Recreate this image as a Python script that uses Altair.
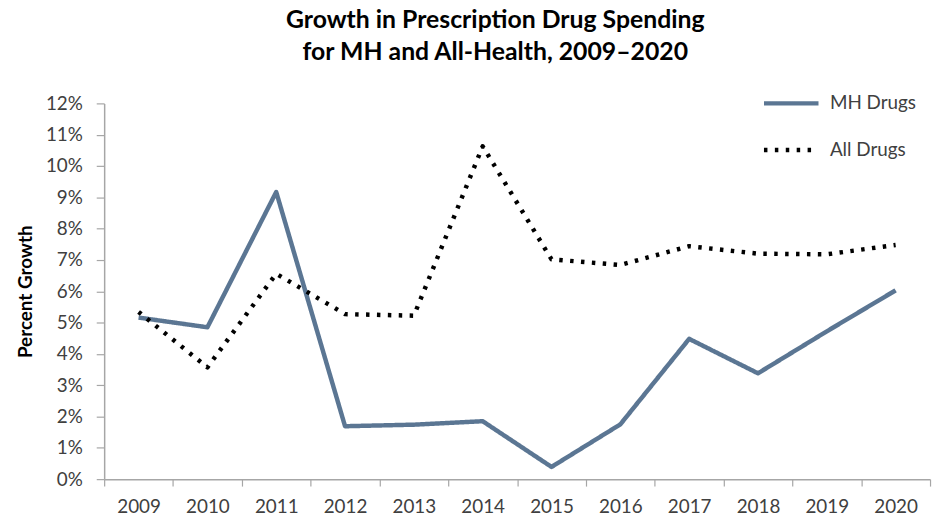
import altair as alt
import pandas as pd

years = [str(y) for y in range(2009, 2021)]
mh_drugs = [5.16, 4.85, 9.17, 1.69, 1.74, 1.85, 0.39, 1.75, 4.48, 3.38, 4.72, 6.03]
all_drugs = [5.34, 3.57, 6.56, 5.27, 5.22, 10.63, 7.02, 6.84, 7.44, 7.20, 7.18, 7.48]
series = ["MH Drugs", "All Drugs"]
y_ticks = [i / 100 for i in range(0, 13)]

rows = []
for s, vals in zip(series, [mh_drugs, all_drugs]):
    for yr, v in zip(years, vals):
        rows.append({"Year": yr, "Growth": v / 100, "Series": s})
df = pd.DataFrame(rows)

FONT = "Lato"
GRAY = "#a6a6a6"
LABEL = "#404040"

legend = alt.Legend(
    title=None, orient="none", legendX=663, legendY=-30,
    symbolType="stroke", symbolSize=3025, symbolStrokeWidth=4.5,
    labelFont=FONT, labelFontSize=19, labelColor=LABEL, labelOffset=9,
    rowPadding=7,
)

chart = alt.Chart(df).mark_line(strokeWidth=4.5, strokeJoin="round").encode(
    x=alt.X("Year:O", bandPosition=0.5,
            scale=alt.Scale(type="band", paddingInner=0, paddingOuter=0),
            axis=alt.Axis(title=None, tickBand="extent", labelAngle=0,
                          labelFont=FONT, labelFontSize=19, labelColor=LABEL,
                          labelPadding=12, tickSize=7, tickColor=GRAY,
                          domainColor=GRAY, domainWidth=1.5, tickWidth=1.2)),
    y=alt.Y("Growth:Q", scale=alt.Scale(domain=[0, 0.12], nice=False),
            axis=alt.Axis(values=y_ticks, format=".0%", grid=False,
                          title="Percent Growth", titleFont=FONT, titleFontSize=19,
                          titleFontWeight="bold", titleColor="#000000", titlePadding=10,
                          labelFont=FONT, labelFontSize=19, labelColor=LABEL,
                          labelPadding=14, tickSize=8, tickColor=GRAY, tickWidth=1.2,
                          domainColor=GRAY, domainWidth=1.5)),
    color=alt.Color("Series:N", sort=series,
                    scale=alt.Scale(domain=series, range=["#5B7693", "#000000"]),
                    legend=legend),
    strokeDash=alt.StrokeDash("Series:N", sort=series,
                              scale=alt.Scale(domain=series, range=[[1, 0], [3.5, 7.5]]),
                              legend=legend),
).properties(
    width=833, height=379,
    padding={"left": 97, "top": 94, "right": 4, "bottom": 40},
    autosize=alt.AutoSizeParams(type="none"),
    title=alt.Title(["Growth in Prescription Drug Spending", "for MH and All-Health, 2009–2020"],
                    font=FONT, fontSize=25, fontWeight="bold", color="#000000",
                    lineHeight=32, anchor="middle", dx=-22, offset=9),
).configure_view(stroke=None)

chart.save("out.html", embed_options={"renderer": "svg", "actions": False})
